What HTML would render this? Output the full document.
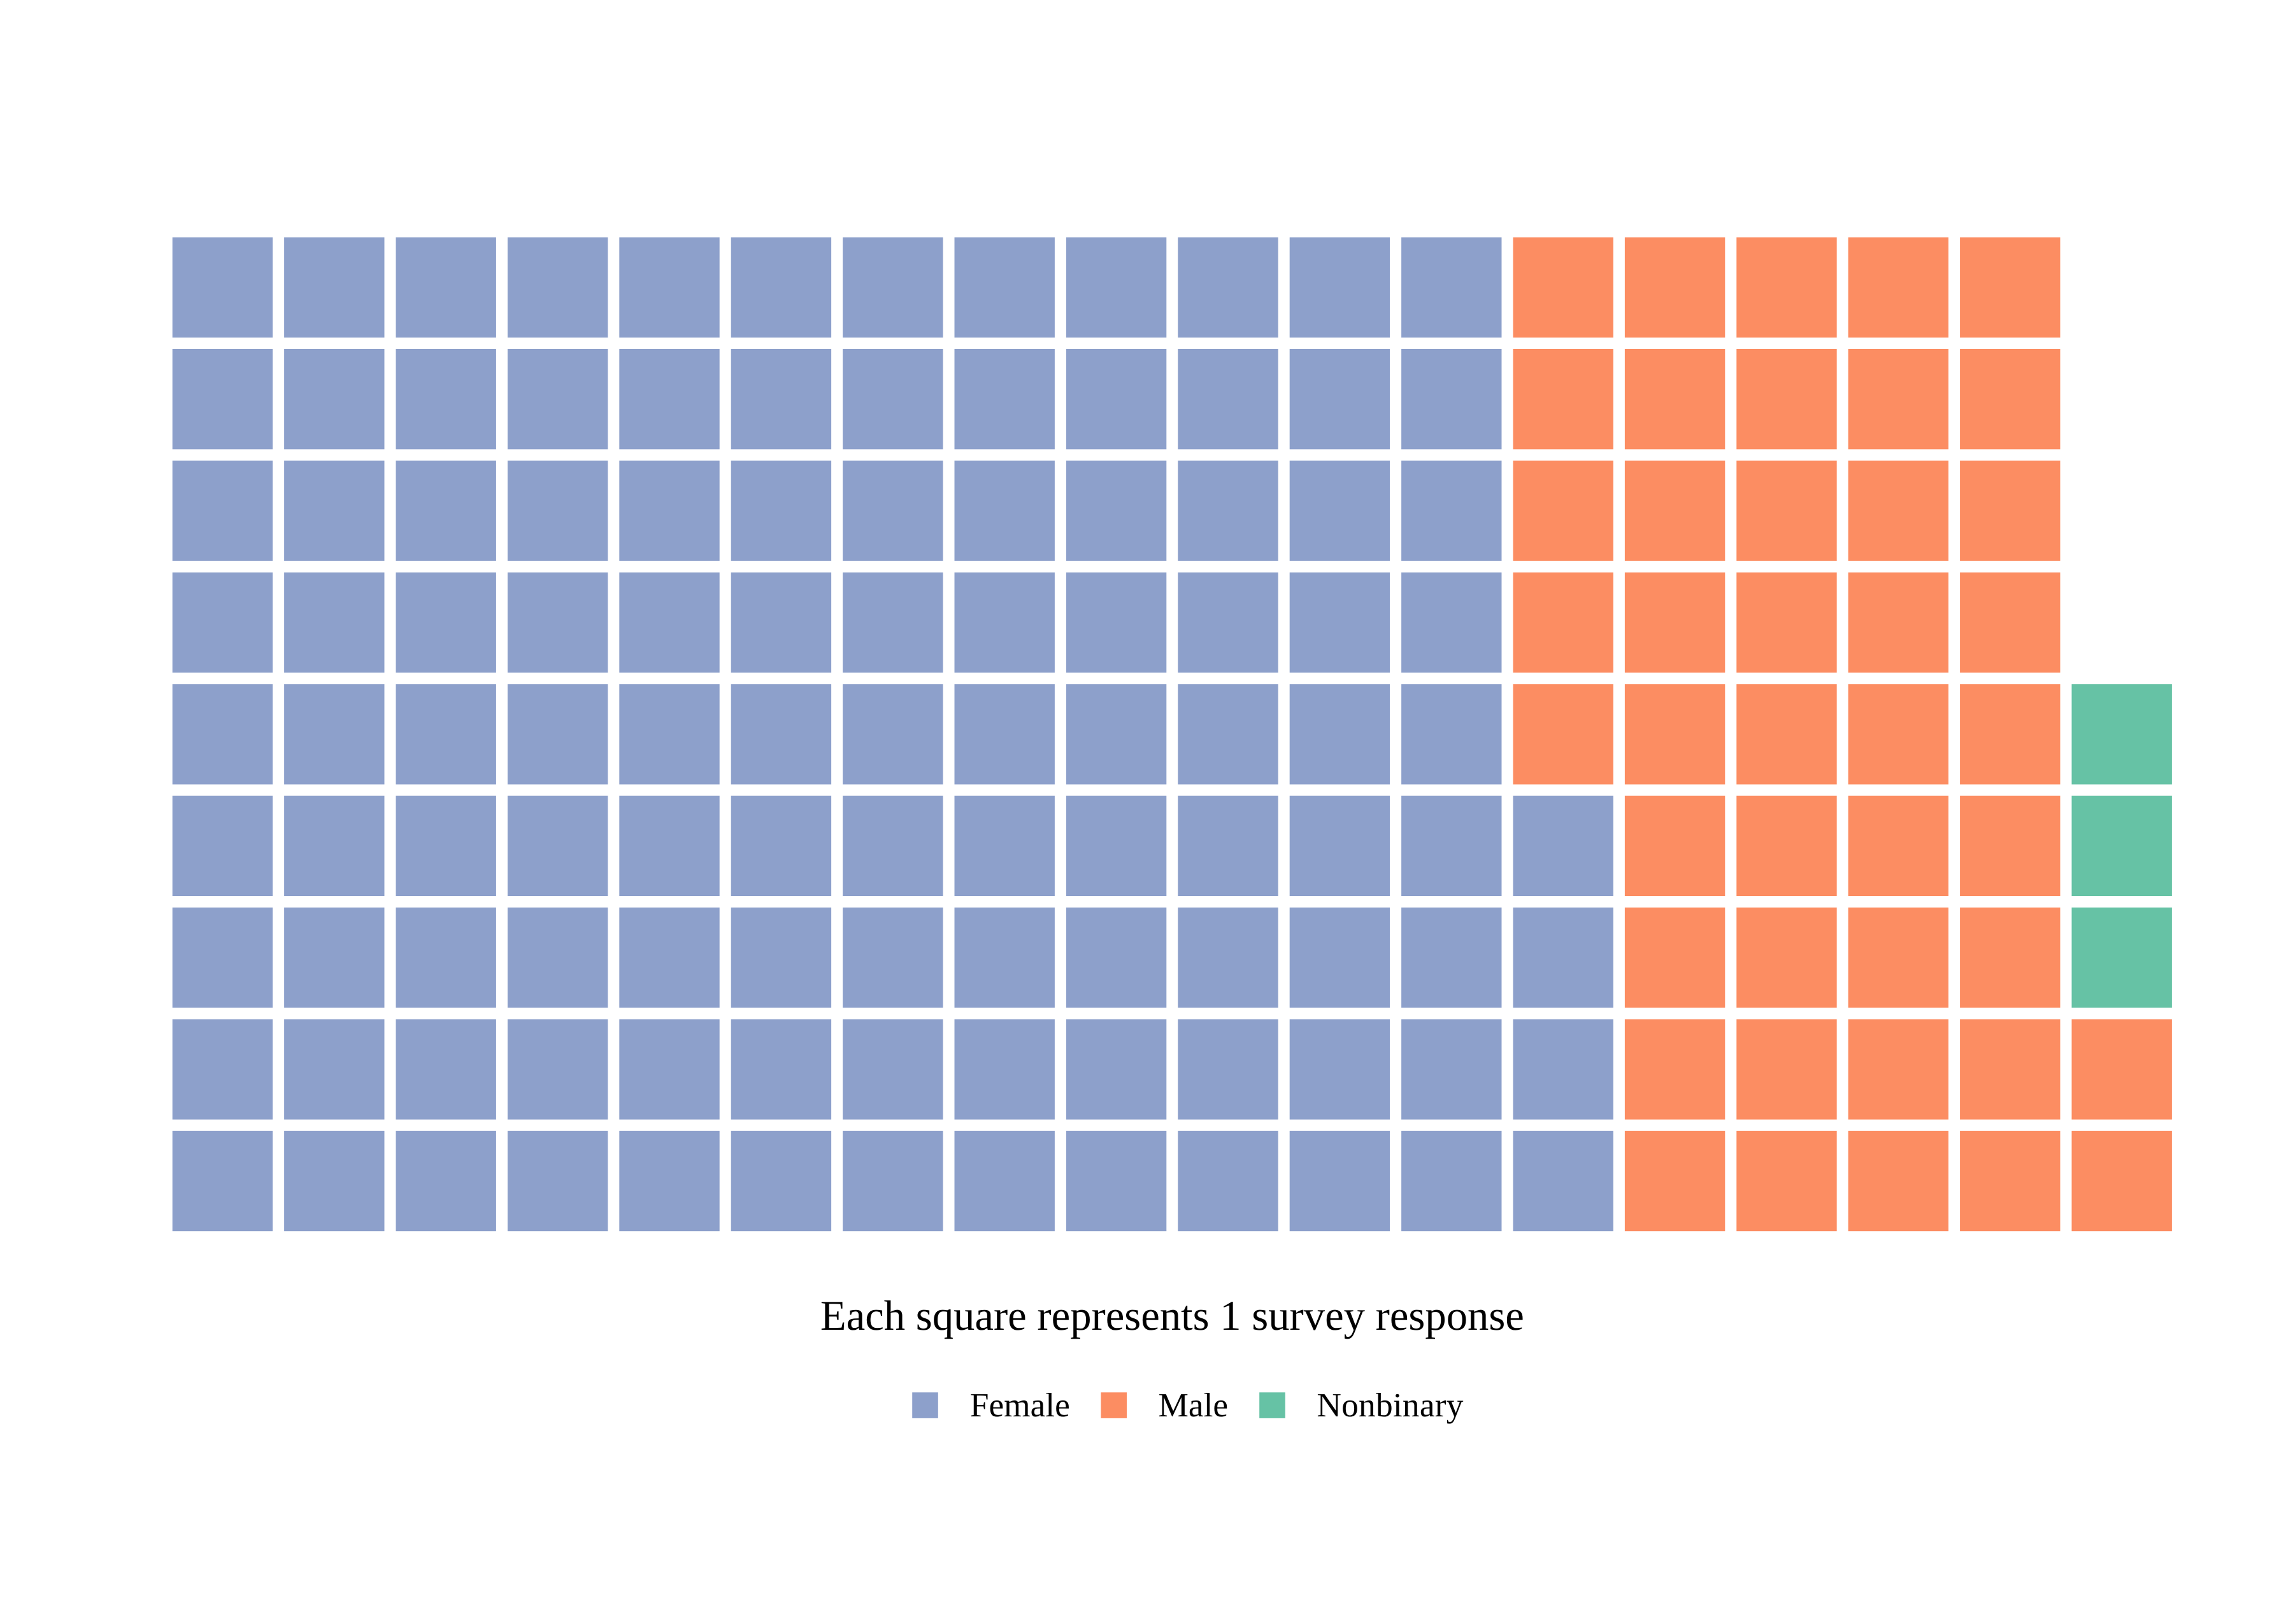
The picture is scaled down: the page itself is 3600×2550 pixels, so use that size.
<!DOCTYPE html>
<html lang="en">
<head>
<meta charset="utf-8">
<title>Waffle chart of survey responses</title>
<style>
html,body{margin:0;padding:0;background:#fff;width:3600px;height:2550px;overflow:hidden}
svg{display:block}
text{font-family:"Liberation Serif",serif;fill:#000;text-rendering:geometricPrecision}
</style>
</head>
<body>
<svg id="chart" xmlns="http://www.w3.org/2000/svg" width="3600" height="2550" viewBox="0 0 3600 2550">
  <rect x="0" y="0" width="3600" height="2550" fill="#ffffff"/>
  <g id="tiles"></g>
  <text x="1840.4" y="2088" font-size="66.67" text-anchor="middle">Each square represents 1 survey response</text>
  <g>
    <g>
      <rect x="1432.2" y="2186.3" width="40.6" height="40.6" fill="#8DA0CB"/>
      <text x="1522.8" y="2224" font-size="53.33">Female</text>
    </g>
    <g>
      <rect x="1728.4" y="2186.3" width="40.6" height="40.6" fill="#FC8D62"/>
      <text x="1818.5" y="2224" font-size="53.33">Male</text>
    </g>
    <g>
      <rect x="1977.2" y="2186.3" width="40.6" height="40.6" fill="#66C2A5"/>
      <text x="2067.4" y="2224" font-size="53.33" textLength="230" lengthAdjust="spacing">Nonbinary</text>
    </g>
  </g>
</svg>
<script>
const categories = ["Female", "Male", "Nonbinary"];
const counts = [112, 43, 3];
const palette = ["#8DA0CB", "#FC8D62", "#66C2A5"];
const rowsPerColumn = 9;

const gridLeft = 270.7;
const gridTop = 372.6;
const pitch = 175.4;
const tileSize = 157.4;

function xScale(col) { return gridLeft + col * pitch; }
function yScale(rowFromBottom) { return gridTop + (rowsPerColumn - 1 - rowFromBottom) * pitch; }

const tilesGroup = document.getElementById('tiles');
let tileIndex = 0;
categories.forEach(function (category, c) {
  for (let n = 0; n < counts[c]; n++) {
    const col = Math.floor(tileIndex / rowsPerColumn);
    const row = tileIndex % rowsPerColumn;
    const el = document.createElementNS('http://www.w3.org/2000/svg', 'rect');
    
    
    el.setAttribute('x', xScale(col));
    el.setAttribute('y', yScale(row));
    el.setAttribute('width', tileSize);
    el.setAttribute('height', tileSize);
    el.setAttribute('fill', palette[c]);
    tilesGroup.appendChild(el);
    tileIndex++;
  }
});
</script>
</body>
</html>
